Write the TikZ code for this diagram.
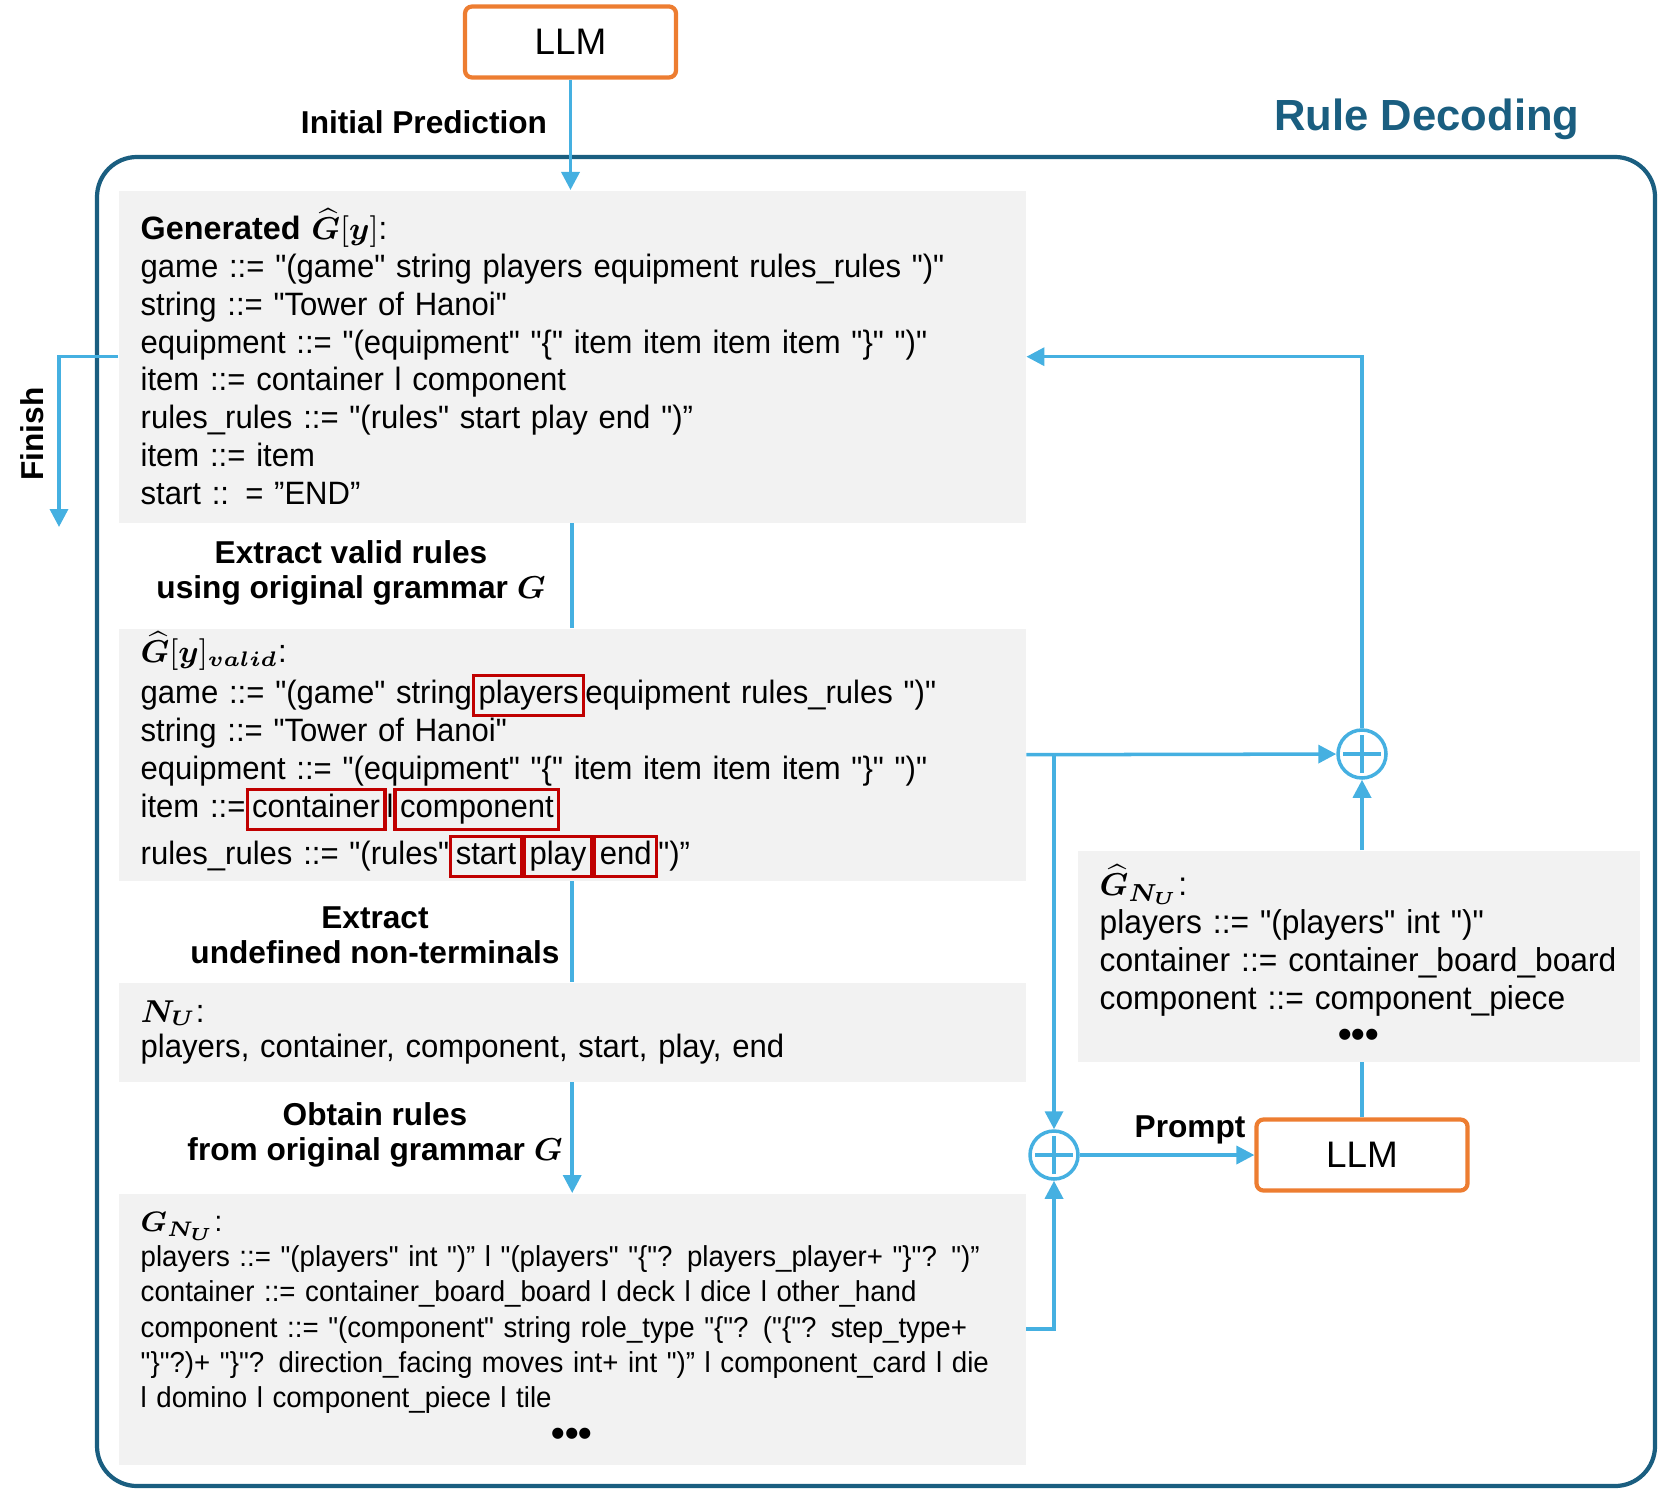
\documentclass[tikz,border=0pt]{standalone}
\usepackage{amsmath}
\usepackage{fontspec}
\newfontfamily\arialFont{Liberation Sans}
\newfontfamily\codeFont{Liberation Sans}[FakeStretch=0.96]
\usetikzlibrary{arrows.meta}
\definecolor{flowBlue}{RGB}{69,176,225}
\definecolor{frameTeal}{RGB}{26,94,128}
\definecolor{llmOrange}{RGB}{237,125,49}
\definecolor{boxGray}{RGB}{242,242,242}
\definecolor{ruleRed}{RGB}{192,0,0}
\newcommand{\codeNine}{\codeFont\fontsize{9.2pt}{10.8pt}\selectfont}
\newcommand{\codeSmall}{\codeFont\fontsize{8.2pt}{10pt}\selectfont}
\newcommand{\redBox}[1]{{\setlength{\fboxrule}{0.9pt}\setlength{\fboxsep}{1pt}\fcolorbox{ruleRed}{boxGray}{\vphantom{lp}#1}}}
\newcommand{\moreDots}{\makebox[\linewidth]{\arialFont\bfseries\fontsize{11pt}{11pt}\selectfont •••}}
\lineskiplimit=-20pt
\hyphenpenalty=10000

\begin{document}
\begin{tikzpicture}
[lineDecorate/.style={draw=flowBlue,line width=1pt},%
  arrowDecorate/.style={lineDecorate,-{Triangle[length=0.18cm,width=0.18cm]}},%
  boxDecorate/.style={fill=boxGray,anchor=north west,inner xsep=0.22cm,inner ysep=0pt,align=left},%
  llmDecorate/.style={draw=llmOrange,line width=1.2pt,rounded corners=2pt,minimum width=2.11cm,minimum height=0.71cm,font={\arialFont\fontsize{10.5pt}{12pt}\selectfont}},%
  plusDecorate/.style={circle,draw=flowBlue,line width=1pt,minimum size=0.48cm,inner sep=0pt,
    path picture={\draw[flowBlue,line width=1pt,shorten <=1.5pt,shorten >=1.5pt] (path picture bounding box.north) -- (path picture bounding box.south);
      \draw[flowBlue,line width=1pt,shorten <=1.5pt,shorten >=1.5pt] (path picture bounding box.west) -- (path picture bounding box.east);}},%
  labelDecorate/.style={font={\arialFont\bfseries\fontsize{9pt}{10pt}\selectfont},align=center}]
\useasboundingbox (0,0) rectangle (16.61,-14.90);
%% frame
\draw[frameTeal,line width=1.2pt,rounded corners=0.4cm] (0.97,-1.57) rectangle (16.55,-14.86);
\node (ruleTitle) at (14.27,-1.31) [anchor=base,text=frameTeal,font={\arialFont\bfseries\fontsize{12.4pt}{14pt}\selectfont}] {Rule Decoding};
%% models and joins
\node (llmTop) at (5.705,-0.42) [llmDecorate] {LLM};
\node (llmLow) at (13.62,-11.55) [llmDecorate] {LLM};
\node (plusTop) at (13.62,-7.54) [plusDecorate] {};
\node (plusLow) at (10.54,-11.55) [plusDecorate] {};
\coordinate (branchPoint) at (10.54,-7.54);
\coordinate (finishEnd) at (0.59,-5.27);
%% grammar boxes
\node (genBox) at (1.18,-1.90) [boxDecorate,text width=8.63cm,minimum height=3.32cm,font=\codeNine] {%
{\arialFont\bfseries Generated} $\boldsymbol{\widehat{G}}[\boldsymbol{y}]$:\\
game ::= "(game" string players equipment rules\_rules ")"\\
string ::= "Tower of Hanoi"\\
equipment ::= "(equipment" "\{" item item item item "\}" ")"\\
item ::= container l component\\
rules\_rules ::= "(rules" start play end ")”\\
item ::= item\\
start :: = ”END”};
\node (validBox) at (1.18,-6.28) [boxDecorate,text width=8.63cm,minimum height=2.52cm,font=\codeNine] {%
$\boldsymbol{\widehat{G}}[\boldsymbol{y}]_{\boldsymbol{valid}}$:\\
game ::= "(game" string\redBox{players}equipment rules\_rules ")"\\
string ::= "Tower of Hanoi"\\
equipment ::= "(equipment" "\{" item item item item "\}" ")"\\
item ::=\redBox{container}l\redBox{component}\\
rules\_rules ::= "(rules"\redBox{start}\redBox{play}\redBox{end}")”};
\node (nuBox) at (1.18,-9.82) [boxDecorate,text width=8.63cm,minimum height=0.99cm,font={\codeFont\fontsize{9.2pt}{10pt}\selectfont}] {%
$\boldsymbol{N_U}$:\\
players, container, component, start, play, end};
\node (gnuBox) at (1.18,-11.93) [boxDecorate,text width=8.63cm,minimum height=2.71cm,font=\codeSmall] {%
$\boldsymbol{G_{N_U}}$:\\
players ::= "(players" int ")” l "(players" "\{"? players\_player+ "\}"? ")”\\
container ::= container\_board\_board l deck l dice l other\_hand\\
component ::= "(component" string role\_type "\{"? ("\{"? step\_type+\\
"\}"?)+ "\}"? direction\_facing moves int+ int ")” l component\_card l die\\
l domino l component\_piece l tile\\[1pt]
\moreDots};
\node (hatBox) at (10.77,-8.50) [boxDecorate,text width=5.18cm,minimum height=2.11cm,font={\codeFont\fontsize{9.4pt}{10.8pt}\selectfont}] {%
$\boldsymbol{\widehat{G}_{N_U}}$:\\
players ::= "(players" int ")"\\
container ::= container\_board\_board\\
component ::= component\_piece\\
\moreDots};
%% step labels
\node (initLabel) at (4.24,-1.22) [labelDecorate] {Initial Prediction};
\node (validLabel) at (3.51,-5.73) [labelDecorate] {Extract valid rules\\ using original grammar $\boldsymbol{G}$};
\node (undefLabel) at (3.75,-9.35) [labelDecorate] {Extract\\ undefined non-terminals};
\node (obtainLabel) at (3.75,-11.35) [labelDecorate] {Obtain rules\\ from original grammar $\boldsymbol{G}$};
\node (finishLabel) at (0.32,-4.34) [labelDecorate,rotate=90] {Finish};
\node (promptLabel) at (11.90,-11.30) [labelDecorate] {Prompt};
%% connectors
\draw[arrowDecorate] (llmTop) -- (llmTop |- genBox.north);
\draw[arrowDecorate] (genBox.west) -| (finishEnd);
\draw[lineDecorate] (genBox.south) -- (validBox.north);
\draw[lineDecorate] (validBox.south) -- (nuBox.north);
\draw[arrowDecorate] (nuBox.south) -- (gnuBox.north);
\draw[arrowDecorate] (validBox.east) -- (plusTop);
\draw[arrowDecorate] (branchPoint) -- (plusLow);
\draw[arrowDecorate] (gnuBox.east) -| (plusLow);
\draw[arrowDecorate] (plusLow) -- (llmLow);
\draw[lineDecorate] (llmLow) -- (llmLow |- hatBox.south);
\draw[arrowDecorate] (llmLow |- hatBox.north) -- (plusTop);
\draw[arrowDecorate] (plusTop) |- (genBox.east);
\end{tikzpicture}
\end{document}
